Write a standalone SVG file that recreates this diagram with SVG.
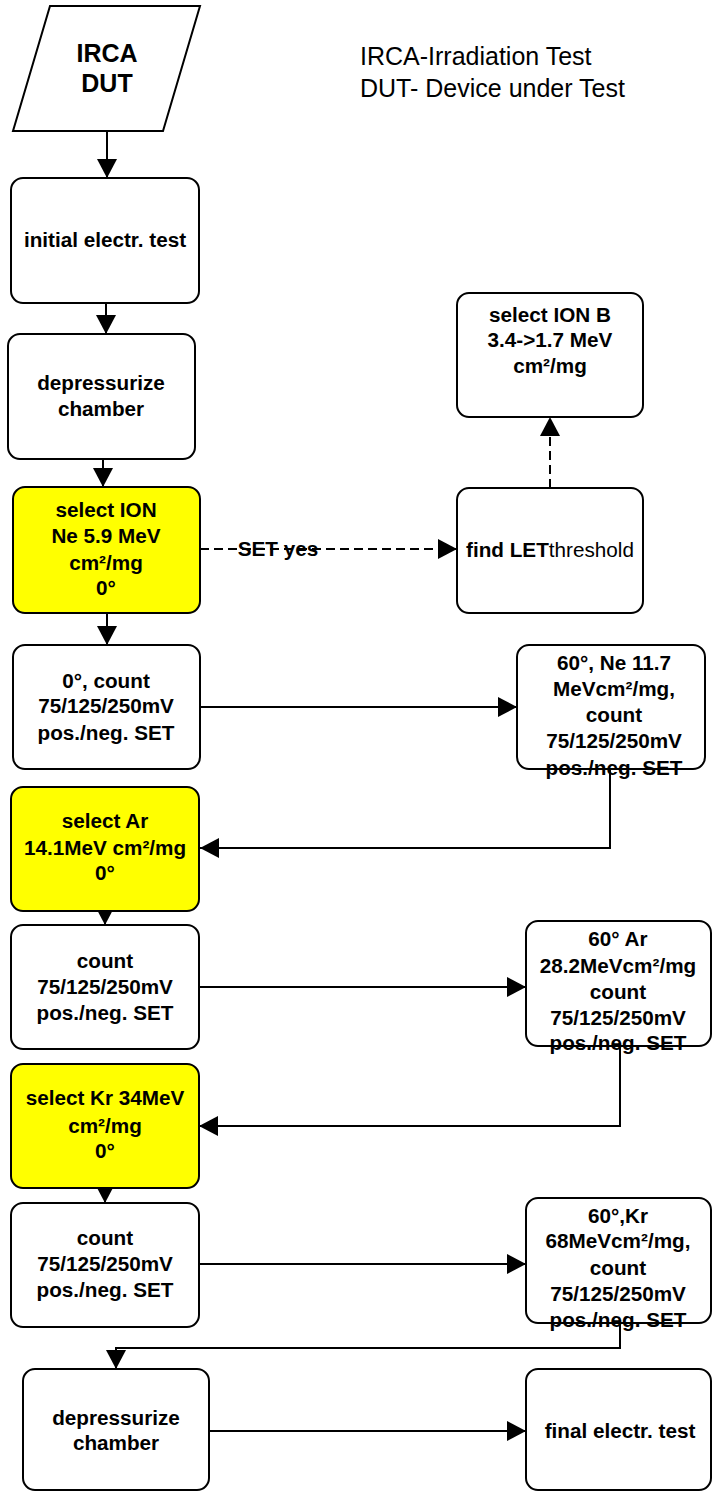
<svg xmlns="http://www.w3.org/2000/svg" width="713" height="1492" viewBox="0 0 713 1492">
<style>
.box{fill:#fff;stroke:#000;stroke-width:2}
.yel{fill:#ffff00}
.t{font-family:"Liberation Sans",Arial,sans-serif;font-weight:bold;font-size:20.7px;text-anchor:middle;fill:#000}
.big{font-size:25px}
.leg{font-family:"Liberation Sans",Arial,sans-serif;font-size:25px;fill:#000}
.c{fill:none;stroke:#000;stroke-width:2}
.d{stroke-dasharray:9,5}
</style>
<defs>
<marker id="ah" markerUnits="userSpaceOnUse" markerWidth="20" markerHeight="20" viewBox="0 0 19 20" refX="19" refY="10" orient="auto">
<path d="M0,0 L19,10 L0,20 Z" fill="#000"/>
</marker>
</defs>
<rect width="713" height="1492" fill="#fff"/>

<g id="legend">
<text class="leg" x="360" y="65">IRCA-Irradiation Test</text>
<text class="leg" x="360" y="97">DUT- Device under Test</text>
</g>

<g id="connectors">
<path class="c" d="M107,131 V178" marker-end="url(#ah)"/>
<path class="c" d="M106,303 V334" marker-end="url(#ah)"/>
<path class="c" d="M103,459 V487" marker-end="url(#ah)"/>
<path class="c" d="M107,613 V645" marker-end="url(#ah)"/>
<path class="c" d="M200,707 H517" marker-end="url(#ah)"/>
<path class="c" d="M610,769 V848 H200" marker-end="url(#ah)"/>
<path class="c" d="M105,911 V925" marker-end="url(#ah)"/>
<path class="c" d="M199,987 H526" marker-end="url(#ah)"/>
<path class="c" d="M620,1046 V1126 H199" marker-end="url(#ah)"/>
<path class="c" d="M105,1188 V1203" marker-end="url(#ah)"/>
<path class="c" d="M199,1264 H526" marker-end="url(#ah)"/>
<path class="c" d="M620,1323 V1348 H116 V1369" marker-end="url(#ah)"/>
<path class="c" d="M209,1431 H526" marker-end="url(#ah)"/>
<path class="c d" d="M200,549 H457" marker-end="url(#ah)"/>
<path class="c d" d="M550,488 V417" marker-end="url(#ah)"/>
<text class="t" x="278" y="556">SET yes</text>
</g>

<g id="n_irca">
<polygon class="box" points="50,6 200,6 163,131 13,131"/>
<text class="t big" x="107" y="62">IRCA</text>
<text class="t big" x="107" y="92">DUT</text>
</g>

<g id="n_initial">
<rect class="box" x="11" y="178" width="188" height="125" rx="12"/>
<text class="t" x="105" y="247">initial electr. test</text>
</g>

<g id="n_depress1">
<rect class="box" x="8" y="334" width="187" height="125" rx="12"/>
<text class="t" x="101" y="390">depressurize</text>
<text class="t" x="101" y="416">chamber</text>
</g>

<g id="n_selion">
<rect class="box yel" x="13" y="487" width="187" height="126" rx="12"/>
<text class="t" x="106" y="517">select ION</text>
<text class="t" x="106" y="543">Ne 5.9 MeV</text>
<text class="t" x="106" y="570">cm²/mg</text>
<text class="t" x="106" y="595">0°</text>
</g>

<g id="n_findlet">
<rect class="box" x="457" y="488" width="186" height="125" rx="12"/>
<text class="t" x="550" y="557">find LET<tspan style="font-weight:normal">threshold</tspan></text>
</g>

<g id="n_selionb">
<rect class="box" x="457" y="293" width="186" height="124" rx="12"/>
<text class="t" x="550" y="322">select ION B</text>
<text class="t" x="550" y="347">3.4-&gt;1.7 MeV</text>
<text class="t" x="550" y="373">cm²/mg</text>
</g>

<g id="n_count0">
<rect class="box" x="13" y="645" width="187" height="124" rx="12"/>
<text class="t" x="106" y="688">0°, count</text>
<text class="t" x="106" y="713">75/125/250mV</text>
<text class="t" x="106" y="740">pos./neg. SET</text>
</g>

<g id="n_ne60">
<rect class="box" x="517" y="645" width="188" height="124" rx="12"/>
<text class="t" x="614" y="670">60°, Ne 11.7</text>
<text class="t" x="614" y="696">MeVcm²/mg,</text>
<text class="t" x="614" y="722">count</text>
<text class="t" x="614" y="748">75/125/250mV</text>
<text class="t" x="614" y="775">pos./neg. SET</text>
</g>

<g id="n_selar">
<rect class="box yel" x="11" y="787" width="188" height="124" rx="12"/>
<text class="t" x="105" y="828">select Ar</text>
<text class="t" x="105" y="855">14.1MeV cm²/mg</text>
<text class="t" x="105" y="880">0°</text>
</g>

<g id="n_countar">
<rect class="box" x="11" y="925" width="188" height="124" rx="12"/>
<text class="t" x="105" y="968">count</text>
<text class="t" x="105" y="994">75/125/250mV</text>
<text class="t" x="105" y="1020">pos./neg. SET</text>
</g>

<g id="n_ar60">
<rect class="box" x="526" y="921" width="185" height="125" rx="12"/>
<text class="t" x="618" y="946">60° Ar</text>
<text class="t" x="618" y="973">28.2MeVcm²/mg</text>
<text class="t" x="618" y="999">count</text>
<text class="t" x="618" y="1025">75/125/250mV</text>
<text class="t" x="618" y="1050">pos./neg. SET</text>
</g>

<g id="n_selkr">
<rect class="box yel" x="11" y="1064" width="188" height="124" rx="12"/>
<text class="t" x="105" y="1105">select Kr 34MeV</text>
<text class="t" x="105" y="1133">cm²/mg</text>
<text class="t" x="105" y="1158">0°</text>
</g>

<g id="n_countkr">
<rect class="box" x="11" y="1203" width="188" height="124" rx="12"/>
<text class="t" x="105" y="1245">count</text>
<text class="t" x="105" y="1271">75/125/250mV</text>
<text class="t" x="105" y="1297">pos./neg. SET</text>
</g>

<g id="n_kr60">
<rect class="box" x="526" y="1198" width="185" height="125" rx="12"/>
<text class="t" x="618" y="1223">60°,Kr</text>
<text class="t" x="618" y="1248">68MeVcm²/mg,</text>
<text class="t" x="618" y="1275">count</text>
<text class="t" x="618" y="1301">75/125/250mV</text>
<text class="t" x="618" y="1327">pos./neg. SET</text>
</g>

<g id="n_depress2">
<rect class="box" x="23" y="1369" width="186" height="121" rx="12"/>
<text class="t" x="116" y="1425">depressurize</text>
<text class="t" x="116" y="1450">chamber</text>
</g>

<g id="n_final">
<rect class="box" x="526" y="1369" width="185" height="121" rx="12"/>
<text class="t" x="620" y="1438">final electr. test</text>
</g>
</svg>
